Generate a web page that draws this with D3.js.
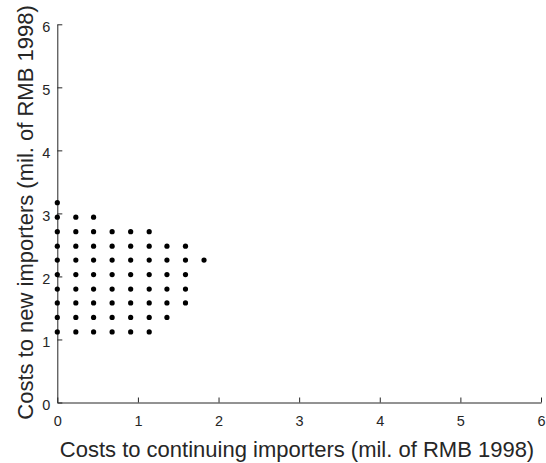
<html>
<head>
<script src="https://d3js.org/d3.v7.min.js"></script>
<style>
  body { margin: 0; background: #fff; }
  text { font-family: "Liberation Sans", Arial, sans-serif; fill: #262626; }
  .axis path, .axis line { stroke: #262626; }
</style>
</head>
<body>
<svg id="chart" width="546" height="463"></svg>
<script>
// grid of cost pairs (mil. of RMB 1998)
var continuing = [
  0,
  0, 0.23, 0.45,
  0, 0.23, 0.45, 0.68, 0.91, 1.14,
  0, 0.23, 0.45, 0.68, 0.91, 1.14, 1.36, 1.59,
  0, 0.23, 0.45, 0.68, 0.91, 1.14, 1.36, 1.59, 1.82,
  0, 0.23, 0.45, 0.68, 0.91, 1.14, 1.36, 1.59,
  0, 0.23, 0.45, 0.68, 0.91, 1.14, 1.36, 1.59,
  0, 0.23, 0.45, 0.68, 0.91, 1.14, 1.36, 1.59,
  0, 0.23, 0.45, 0.68, 0.91, 1.14, 1.36,
  0, 0.23, 0.45, 0.68, 0.91, 1.14
];
var newImporters = [
  3.17,
  2.94, 2.94, 2.94,
  2.71, 2.71, 2.71, 2.71, 2.71, 2.71,
  2.48, 2.48, 2.48, 2.48, 2.48, 2.48, 2.48, 2.48,
  2.26, 2.26, 2.26, 2.26, 2.26, 2.26, 2.26, 2.26, 2.26,
  2.03, 2.03, 2.03, 2.03, 2.03, 2.03, 2.03, 2.03,
  1.80, 1.80, 1.80, 1.80, 1.80, 1.80, 1.80, 1.80,
  1.58, 1.58, 1.58, 1.58, 1.58, 1.58, 1.58, 1.58,
  1.35, 1.35, 1.35, 1.35, 1.35, 1.35, 1.35,
  1.12, 1.12, 1.12, 1.12, 1.12, 1.12
];
var xTicks = [0, 1, 2, 3, 4, 5, 6];
var yTicks = [0, 1, 2, 3, 4, 5, 6];

var plotLeft = 57.3, plotRight = 541, plotTop = 24.3, plotBottom = 402.5;

var svg = d3.select("#chart");
var x = d3.scaleLinear().domain([0, 6]).range([plotLeft, plotRight]);
var y = d3.scaleLinear().domain([0, 6]).range([plotBottom, plotTop]);

// x axis, ticks pointing inward
svg.append("g")
    .attr("class", "axis")
    .attr("transform", "translate(0," + plotBottom + ")")
    .call(d3.axisBottom(x).tickValues(xTicks).tickFormat(d3.format("d")).tickSizeInner(-5).tickSizeOuter(0).tickPadding(10))
    .call(g => g.selectAll("text").attr("font-size", 14.5).attr("dy", "0.9em"));

// y axis
svg.append("g")
    .attr("class", "axis")
    .attr("transform", "translate(" + plotLeft + ",0)")
    .call(d3.axisLeft(y).tickValues(yTicks).tickFormat(d3.format("d")).tickSizeInner(-5).tickSizeOuter(0).tickPadding(7))
    .call(g => g.selectAll("text").attr("font-size", 14.5).attr("dy", "0.5em"));

svg.selectAll(".axis path").attr("stroke-width", 1);

// points
svg.append("g")
  .selectAll("circle")
  .data(d3.range(continuing.length))
  .enter()
  .append("circle")
    .attr("cx", i => x(continuing[i]))
    .attr("cy", i => y(newImporters[i]))
    .attr("r", 2.6)
    .attr("fill", "#000");

// labels
svg.append("text")
    .attr("x", 297)
    .attr("y", 457)
    .attr("text-anchor", "middle")
    .attr("font-size", 22)
    .text("Costs to continuing importers (mil. of RMB 1998)");

svg.append("text")
    .attr("transform", "translate(33,212.5) rotate(-90)")
    .attr("text-anchor", "middle")
    .attr("font-size", 22)
    .text("Costs to new importers (mil. of RMB 1998)");
</script>
</body>
</html>
